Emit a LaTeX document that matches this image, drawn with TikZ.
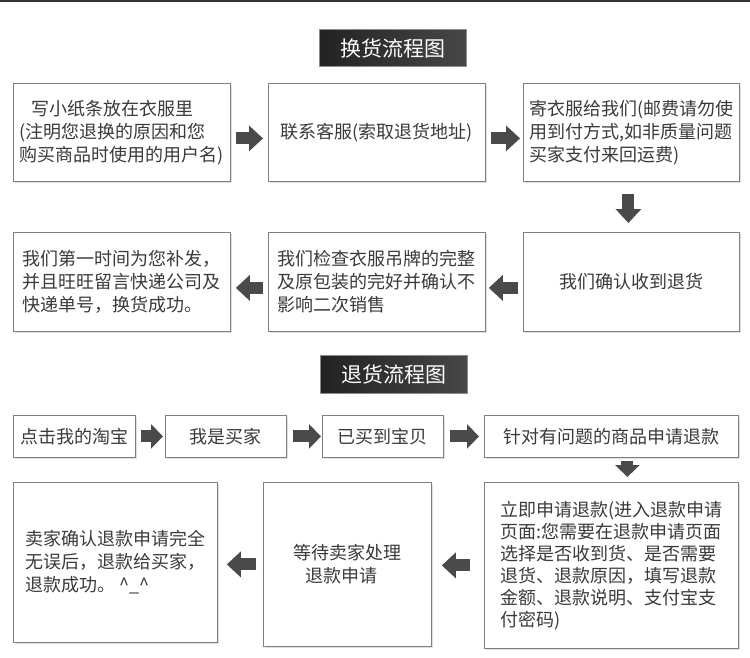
\documentclass[tikz,border=0pt]{standalone}
\usepackage{fontspec}
\usepackage{tikz}
\usetikzlibrary{arrows.meta, positioning, shadows, calc}
\newfontfamily\cjk{Noto Sans CJK SC}
\definecolor{framegray}{HTML}{7F7F7F}
\definecolor{textgray}{HTML}{3A3A3A}
\definecolor{arrowgray}{HTML}{4A4A4A}
\definecolor{titledark}{HTML}{222222}
\definecolor{titlelight}{HTML}{474747}

\begin{document}
\begin{tikzpicture}[x=1pt, y=-1pt,
  stepbox/.style={draw=framegray, line width=0.8pt, fill=white, anchor=north west,
    inner sep=0pt, align=left, text=textgray, font=\cjk\fontsize{18}{23}\selectfont,
    drop shadow={opacity=0.25, shadow xshift=1.5pt, shadow yshift=-1.5pt}},
  titlebox/.style={left color=titledark, right color=titlelight, draw=black!45,
    minimum width=147pt, minimum height=37pt, inner sep=0pt, text=white,
    font=\cjk\fontsize{21}{21}\selectfont},
  bigarrow/.style={draw=arrowgray, line width=12pt, -{Triangle[length=14pt, width=25pt]}},
  smallarrow/.style={draw=arrowgray, line width=12pt, -{Triangle[length=12pt, width=24pt]}}]
  \useasboundingbox (0,0) rectangle (750,658);

  % Linka nahoře
  \draw[line width=2.5pt, black!80] (0,1.2) -- (750,1.2);

  % 换货流程图
  \node[titlebox] (t1) at (392.5,48) {换货流程图};

  \node[stepbox, minimum width=217pt, minimum height=98pt] (a1) at (13,83)
    {\hspace{0.65em}写小纸条放在衣服里\\(注明您退换的原因和您\\购买商品时使用的用户名)};
  \node[stepbox, minimum width=217pt, minimum height=98pt] (a2) at (268,83)
    {联系客服(索取退货地址)};
  \node[stepbox, minimum width=216pt, minimum height=98pt] (a3) at (523,83)
    {寄衣服给我们(邮费请勿使\\用到付方式,如非质量问题\\买家支付来回运费)};

  \node[stepbox, minimum width=217pt, minimum height=99pt] (b1) at (13,232)
    {我们第一时间为您补发，\\并且旺旺留言快递公司及\\快递单号，换货成功。};
  \node[stepbox, minimum width=217pt, minimum height=99pt] (b2) at (268,232)
    {我们检查衣服吊牌的完整\\及原包装的完好并确认不\\影响二次销售};
  \node[stepbox, minimum width=216pt, minimum height=99pt] (b3) at (523,232)
    {我们确认收到退货};

  % Šipky - výměna
  \foreach \s/\t/\p/\q in {a1/a2/5/5, a2/a3/5/3}
    \draw[bigarrow, shorten <=\p pt, shorten >=\q pt] ([yshift=-6pt]\s.east) -- ([yshift=-6pt]\t.west);
  \draw[bigarrow, shorten <=12pt, shorten >=9pt] ([xshift=-3pt]a3.south) -- ([xshift=-3pt]b3.north);
  \foreach \s/\t/\p/\q in {b3/b2/5/3, b2/b1/5/5}
    \draw[bigarrow, shorten <=\p pt, shorten >=\q pt] ([yshift=-6pt]\s.west) -- ([yshift=-6pt]\t.east);

  % 退货流程图
  \node[titlebox, minimum height=38pt] (t2) at (393.5,374) {退货流程图};

  \node[stepbox, minimum width=122pt, minimum height=42pt] (c1) at (13,415) {点击我的淘宝};
  \node[stepbox, minimum width=121pt, minimum height=42pt] (c2) at (165,415) {我是买家};
  \node[stepbox, minimum width=121pt, minimum height=42pt] (c3) at (322,415) {已买到宝贝};
  \node[stepbox, minimum width=254pt, minimum height=42pt] (c4) at (484,415) {针对有问题的商品申请退款};

  \node[stepbox, minimum width=204pt, minimum height=160pt] (d1) at (13,482)
    {卖家确认退款申请完全\\无误后，退款给买家，\\退款成功。 \^{}\_\^{}};
  \node[stepbox, minimum width=168pt, minimum height=164pt] (d2) at (263,482)
    {等待卖家处理\\\hspace{0.65em}退款申请};
  \node[stepbox, minimum width=254pt, minimum height=166pt, font=\cjk\fontsize{18}{22}\selectfont] (d3) at (484,482)
    {立即申请退款(进入退款申请\\页面:您需要在退款申请页面\\选择是否收到货、是否需要\\退货、退款原因，填写退款\\金额、退款说明、支付宝支\\付密码)};

  % Šipky - vrácení
  \foreach \s/\t/\p/\q in {c1/c2/5/2, c2/c3/6/1, c3/c4/6/5}
    \draw[smallarrow, shorten <=\p pt, shorten >=\q pt] (\s.east) -- (\t.west);
  \draw[smallarrow, shorten <=3pt, shorten >=5pt] ([xshift=16pt]c4.south) -- ([xshift=16pt]d3.north);
  \draw[bigarrow, shorten <=14pt, shorten >=10pt] (d3.west) -- (d3.west -| d2.east);
  \draw[bigarrow, shorten <=7pt, shorten >=9pt] (d2.west) -- (d2.west -| d1.east);
\end{tikzpicture}
\end{document}
